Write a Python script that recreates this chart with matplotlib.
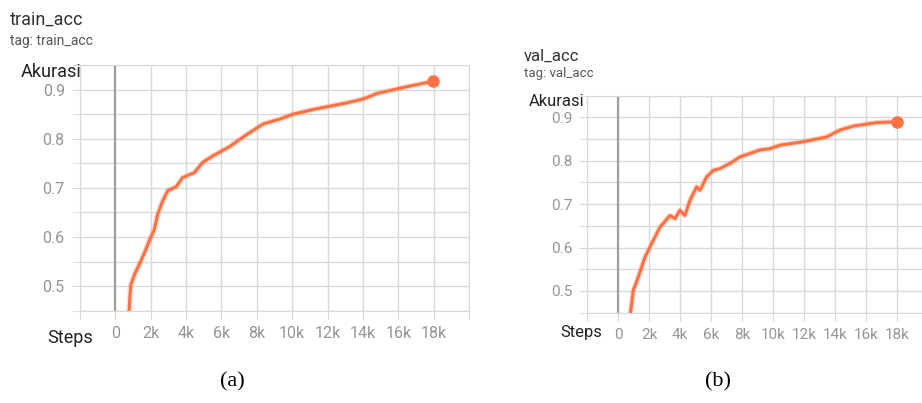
import matplotlib
matplotlib.use("Agg")
import matplotlib.pyplot as plt

plt.rcParams['font.family'] = ['Roboto', 'DejaVu Sans']

# training accuracy (smoothed), read per step
train_steps = [700, 780, 820, 875, 1100, 1347, 1650, 1915, 2200, 2390, 2670, 2955,
               3430, 3807, 4470, 4943, 5511, 6460, 7409, 8352, 9300, 10057, 11386,
               13091, 14034, 14795, 16119, 17977]
train_acc = [0.43, 0.452, 0.478, 0.503, 0.525, 0.544, 0.568, 0.592, 0.615, 0.646,
             0.673, 0.694, 0.702, 0.721, 0.731, 0.752, 0.765, 0.784, 0.808, 0.830,
             0.840, 0.850, 0.861, 0.873, 0.881, 0.892, 0.903, 0.917]

# validation accuracy
val_steps = [700, 802, 970, 1293, 1726, 2157, 2696, 3343, 3666, 3990, 4313, 4636,
             5067, 5283, 5714, 6145, 6576, 7223, 7870, 8516, 9163, 9810, 10456,
             11964, 13476, 14336, 15198, 16707, 18000]
val_acc = [0.43, 0.453, 0.501, 0.532, 0.578, 0.609, 0.647, 0.674, 0.667, 0.686,
           0.674, 0.709, 0.740, 0.732, 0.763, 0.778, 0.782, 0.794, 0.809, 0.817,
           0.825, 0.828, 0.836, 0.844, 0.855, 0.871, 0.880, 0.888, 0.890]

x_ticks = list(range(-2000, 20001, 2000))
x_labels = [''] + [('0' if t == 0 else f'{t // 1000}k') for t in x_ticks[1:-1]] + ['']
y_major = [0.5, 0.6, 0.7, 0.8, 0.9]
y_minor = [0.45, 0.55, 0.65, 0.75, 0.85, 0.95]

LINE = '#ff7043'
W, H = 922, 403


def px(x, y):
    return x / W, 1 - y / H


def draw_panel(ax, steps, acc, tick_size):
    ax.set_xlim(-2000, 20000)
    ax.set_ylim(0.45, 0.95)
    ax.set_xticks(x_ticks)
    ax.set_xticklabels(x_labels)
    ax.set_yticks(y_major)
    ax.set_yticklabels([f'{v:.1f}' for v in y_major])
    ax.set_yticks(y_minor, minor=True)
    ax.grid(True, which='both', color='#d9d9d9', lw=1)
    ax.set_axisbelow(True)
    for s in ax.spines.values():
        s.set_color('#d9d9d9')
    ax.tick_params(which='both', color='#d9d9d9', labelcolor='#959595',
                   labelsize=tick_size, length=6, pad=5)
    ax.axvline(0, color='#9e9e9e', lw=1.6, zorder=1)
    ax.plot(steps, acc, color=LINE, lw=4, alpha=0.25, zorder=2)
    ax.plot(steps, acc, color=LINE, lw=2.2, zorder=3)
    ax.plot(steps[-1], acc[-1], 'o', color=LINE, ms=8, zorder=4, clip_on=False)


fig = plt.figure(figsize=(W / 100, H / 100), dpi=100)

ax1 = fig.add_axes([80 / W, 1 - 310.7 / H, 389 / W, 245.7 / H])
draw_panel(ax1, train_steps, train_acc, 11.5)
ax2 = fig.add_axes([587.3 / W, 1 - 312.7 / H, 340.3 / W, 217 / H])
draw_panel(ax2, val_steps, val_acc, 11)

fig.text(*px(10, 20), 'train_acc', fontsize=13, color='#333333', va='center')
fig.text(*px(10, 41), 'tag: train_acc', fontsize=10, color='#555555', va='center')
fig.text(*px(81, 72), 'Akurasi', fontsize=13, color='#222222', va='center', ha='right')
fig.text(*px(47, 338), 'Steps', fontsize=13, color='#222222', va='center')

fig.text(*px(524, 56), 'val_acc', fontsize=12, color='#333333', va='center')
fig.text(*px(524, 74), 'tag: val_acc', fontsize=9.5, color='#555555', va='center')
fig.text(*px(584, 102), 'Akurasi', fontsize=12, color='#222222', va='center', ha='right')
fig.text(*px(560, 332), 'Steps', fontsize=12, color='#222222', va='center')

fig.text(*px(232, 382), '(a)', fontsize=16, family='Liberation Serif',
         ha='center', va='center')
fig.text(*px(718, 382), '(b)', fontsize=16, family='Liberation Serif',
         ha='center', va='center')

fig.savefig('out.png', dpi=100)
